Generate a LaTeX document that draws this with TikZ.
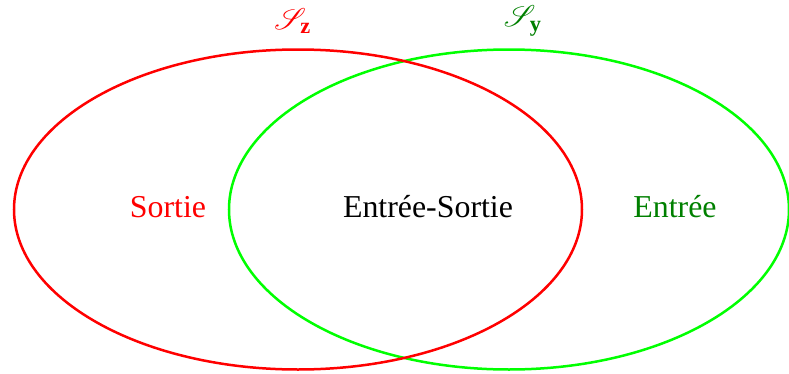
\documentclass[tikz,border=0pt]{standalone}
\usepackage{amsmath,amssymb,amsfonts}
\usepackage{mathrsfs}
\usepackage{fontspec}
\setmainfont{Liberation Serif}
\usepackage{xcolor}
\usepackage{tikz}

\definecolor{vert}{RGB}{0,128,0}

\begin{document}
\begin{tikzpicture}[x=0.4pt, y=-0.4pt, font=\fontsize{12.75}{15}\selectfont]
  \useasboundingbox (0,0) rectangle (789,374);
  \clip (0,0) rectangle (789,374);

  \draw[line width=1pt, green] (509,209.5) ellipse [x radius=280, y radius=160];
  \draw[line width=1pt, red] (298,209.5) ellipse [x radius=284, y radius=160];

  \node[red] (sz) at (293,21) {$\mathscr{S}_{\mathbf{z}}$};
  \node[vert] (sy) at (523,21) {$\mathscr{S}_{\mathbf{y}}$};

  \node[red] (sortie) at (168,207) {Sortie};
  \node (es) at (428,207) {Entrée-Sortie};
  \node[vert] (entree) at (675,207) {Entrée};
\end{tikzpicture}
\end{document}
